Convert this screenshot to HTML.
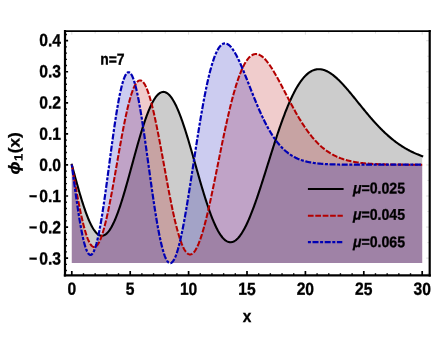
<!DOCTYPE html><html><head><meta charset="utf-8"><style>
html,body{margin:0;padding:0;background:#fff;}
#c{will-change:transform;position:relative;width:436px;height:354px;overflow:hidden;background:#fff;font-family:"Liberation Sans",sans-serif;font-weight:bold;color:#000;-webkit-text-stroke:0.3px #000;}
.t{position:absolute;left:0;top:0;white-space:nowrap;line-height:1;font-size:15.6px;transform-origin:50% 50%;}
.yl{text-align:right;width:40px;}
.xl{text-align:center;width:40px;}
.mn{display:inline-block;transform:scaleX(0.9);transform-origin:0% 50%;margin-right:1.7px;}
</style></head><body><div id="c">
<svg width="436" height="354" viewBox="0 0 436 354" style="position:absolute;left:0;top:0">
<path d="M71.80,164.70 L72.38,166.87 L72.97,169.04 L73.55,171.21 L74.14,173.37 L74.72,175.52 L75.30,177.66 L75.89,179.79 L76.47,181.90 L77.06,184.00 L77.64,186.08 L78.22,188.15 L78.81,190.18 L79.39,192.20 L79.98,194.19 L80.56,196.15 L81.14,198.08 L81.73,199.98 L82.31,201.85 L82.90,203.68 L83.48,205.48 L84.06,207.24 L84.65,208.96 L85.23,210.64 L85.82,212.27 L86.40,213.86 L86.98,215.40 L87.57,216.90 L88.15,218.35 L88.74,219.74 L89.32,221.09 L89.90,222.38 L90.49,223.62 L91.07,224.81 L91.66,225.94 L92.24,227.01 L92.82,228.02 L93.41,228.98 L93.99,229.87 L94.58,230.70 L95.16,231.48 L95.74,232.19 L96.33,232.83 L96.91,233.42 L97.50,233.94 L98.08,234.39 L98.66,234.78 L99.25,235.11 L99.83,235.37 L100.42,235.56 L101.00,235.69 L101.58,235.75 L102.17,235.75 L102.75,235.68 L103.34,235.55 L103.92,235.35 L104.50,235.08 L105.09,234.75 L105.67,234.36 L106.26,233.90 L106.84,233.37 L107.42,232.78 L108.01,232.13 L108.59,231.42 L109.18,230.65 L109.76,229.81 L110.34,228.92 L110.93,227.97 L111.51,226.95 L112.10,225.88 L112.68,224.76 L113.26,223.58 L113.85,222.34 L114.43,221.06 L115.02,219.72 L115.60,218.33 L116.18,216.89 L116.77,215.40 L117.35,213.87 L117.94,212.29 L118.52,210.67 L119.10,209.01 L119.69,207.31 L120.27,205.56 L120.86,203.79 L121.44,201.97 L122.02,200.12 L122.61,198.24 L123.19,196.33 L123.78,194.39 L124.36,192.42 L124.94,190.43 L125.53,188.41 L126.11,186.38 L126.70,184.32 L127.28,182.25 L127.86,180.16 L128.45,178.05 L129.03,175.94 L129.62,173.81 L130.20,171.68 L130.78,169.54 L131.37,167.39 L131.95,165.24 L132.54,163.10 L133.12,160.95 L133.70,158.81 L134.29,156.67 L134.87,154.54 L135.46,152.42 L136.04,150.31 L136.62,148.21 L137.21,146.13 L137.79,144.06 L138.38,142.01 L138.96,139.98 L139.54,137.98 L140.13,135.99 L140.71,134.04 L141.30,132.11 L141.88,130.20 L142.46,128.33 L143.05,126.49 L143.63,124.69 L144.22,122.92 L144.80,121.19 L145.38,119.49 L145.97,117.83 L146.55,116.22 L147.14,114.65 L147.72,113.12 L148.30,111.63 L148.89,110.20 L149.47,108.81 L150.06,107.46 L150.64,106.17 L151.22,104.93 L151.81,103.74 L152.39,102.60 L152.98,101.52 L153.56,100.49 L154.14,99.52 L154.73,98.60 L155.31,97.74 L155.90,96.93 L156.48,96.19 L157.06,95.50 L157.65,94.87 L158.23,94.31 L158.82,93.80 L159.40,93.35 L159.98,92.96 L160.57,92.64 L161.15,92.37 L161.74,92.17 L162.32,92.02 L162.90,91.94 L163.49,91.92 L164.07,91.96 L164.66,92.06 L165.24,92.23 L165.82,92.45 L166.41,92.73 L166.99,93.08 L167.58,93.48 L168.16,93.95 L168.74,94.47 L169.33,95.05 L169.91,95.69 L170.50,96.38 L171.08,97.13 L171.66,97.94 L172.25,98.80 L172.83,99.72 L173.42,100.69 L174.00,101.71 L174.58,102.78 L175.17,103.91 L175.75,105.08 L176.34,106.30 L176.92,107.57 L177.50,108.89 L178.09,110.25 L178.67,111.65 L179.26,113.10 L179.84,114.59 L180.42,116.12 L181.01,117.69 L181.59,119.29 L182.18,120.94 L182.76,122.61 L183.34,124.33 L183.93,126.07 L184.51,127.84 L185.10,129.64 L185.68,131.48 L186.26,133.33 L186.85,135.21 L187.43,137.12 L188.02,139.05 L188.60,140.99 L189.18,142.96 L189.77,144.94 L190.35,146.94 L190.94,148.95 L191.52,150.97 L192.10,153.00 L192.69,155.05 L193.27,157.10 L193.86,159.15 L194.44,161.21 L195.02,163.28 L195.61,165.34 L196.19,167.40 L196.78,169.47 L197.36,171.52 L197.94,173.58 L198.53,175.62 L199.11,177.66 L199.70,179.69 L200.28,181.71 L200.86,183.71 L201.45,185.70 L202.03,187.68 L202.62,189.63 L203.20,191.57 L203.78,193.49 L204.37,195.39 L204.95,197.26 L205.54,199.11 L206.12,200.94 L206.70,202.74 L207.29,204.51 L207.87,206.25 L208.46,207.97 L209.04,209.65 L209.62,211.30 L210.21,212.91 L210.79,214.49 L211.38,216.04 L211.96,217.55 L212.54,219.02 L213.13,220.45 L213.71,221.84 L214.30,223.20 L214.88,224.51 L215.46,225.78 L216.05,227.00 L216.63,228.18 L217.22,229.32 L217.80,230.42 L218.38,231.46 L218.97,232.47 L219.55,233.42 L220.14,234.33 L220.72,235.19 L221.30,236.00 L221.89,236.76 L222.47,237.48 L223.06,238.14 L223.64,238.76 L224.22,239.32 L224.81,239.84 L225.39,240.31 L225.98,240.72 L226.56,241.08 L227.14,241.40 L227.73,241.66 L228.31,241.87 L228.90,242.03 L229.48,242.14 L230.06,242.20 L230.65,242.21 L231.23,242.17 L231.82,242.08 L232.40,241.94 L232.98,241.75 L233.57,241.51 L234.15,241.23 L234.74,240.89 L235.32,240.50 L235.90,240.07 L236.49,239.59 L237.07,239.06 L237.66,238.49 L238.24,237.87 L238.82,237.20 L239.41,236.49 L239.99,235.74 L240.58,234.94 L241.16,234.10 L241.74,233.22 L242.33,232.29 L242.91,231.33 L243.50,230.32 L244.08,229.28 L244.66,228.19 L245.25,227.07 L245.83,225.91 L246.42,224.72 L247.00,223.49 L247.58,222.23 L248.17,220.93 L248.75,219.60 L249.34,218.24 L249.92,216.84 L250.50,215.42 L251.09,213.97 L251.67,212.49 L252.26,210.98 L252.84,209.45 L253.42,207.89 L254.01,206.31 L254.59,204.70 L255.18,203.07 L255.76,201.42 L256.34,199.75 L256.93,198.07 L257.51,196.36 L258.10,194.64 L258.68,192.90 L259.26,191.14 L259.85,189.37 L260.43,187.59 L261.02,185.79 L261.60,183.99 L262.18,182.17 L262.77,180.35 L263.35,178.51 L263.94,176.67 L264.52,174.83 L265.10,172.98 L265.69,171.12 L266.27,169.26 L266.86,167.40 L267.44,165.54 L268.02,163.67 L268.61,161.81 L269.19,159.95 L269.78,158.09 L270.36,156.24 L270.94,154.38 L271.53,152.54 L272.11,150.70 L272.70,148.86 L273.28,147.04 L273.86,145.22 L274.45,143.41 L275.03,141.61 L275.62,139.82 L276.20,138.05 L276.78,136.28 L277.37,134.53 L277.95,132.79 L278.54,131.07 L279.12,129.36 L279.70,127.67 L280.29,125.99 L280.87,124.33 L281.46,122.69 L282.04,121.07 L282.62,119.46 L283.21,117.88 L283.79,116.31 L284.38,114.76 L284.96,113.24 L285.54,111.74 L286.13,110.26 L286.71,108.80 L287.30,107.36 L287.88,105.95 L288.46,104.56 L289.05,103.20 L289.63,101.86 L290.22,100.54 L290.80,99.25 L291.38,97.99 L291.97,96.75 L292.55,95.54 L293.14,94.35 L293.72,93.19 L294.30,92.06 L294.89,90.95 L295.47,89.87 L296.06,88.82 L296.64,87.79 L297.22,86.80 L297.81,85.83 L298.39,84.88 L298.98,83.97 L299.56,83.08 L300.14,82.23 L300.73,81.40 L301.31,80.59 L301.90,79.82 L302.48,79.08 L303.06,78.36 L303.65,77.67 L304.23,77.01 L304.82,76.37 L305.40,75.77 L305.98,75.19 L306.57,74.64 L307.15,74.12 L307.74,73.62 L308.32,73.15 L308.90,72.71 L309.49,72.30 L310.07,71.91 L310.66,71.55 L311.24,71.22 L311.82,70.91 L312.41,70.63 L312.99,70.37 L313.58,70.14 L314.16,69.94 L314.74,69.76 L315.33,69.61 L315.91,69.48 L316.50,69.37 L317.08,69.29 L317.66,69.23 L318.25,69.19 L318.83,69.18 L319.42,69.19 L320.00,69.23 L320.58,69.28 L321.17,69.36 L321.75,69.46 L322.34,69.58 L322.92,69.72 L323.50,69.88 L324.09,70.06 L324.67,70.26 L325.26,70.49 L325.84,70.72 L326.42,70.98 L327.01,71.26 L327.59,71.55 L328.18,71.87 L328.76,72.19 L329.34,72.54 L329.93,72.90 L330.51,73.28 L331.10,73.67 L331.68,74.08 L332.26,74.51 L332.85,74.95 L333.43,75.40 L334.02,75.86 L334.60,76.34 L335.18,76.84 L335.77,77.34 L336.35,77.86 L336.94,78.39 L337.52,78.93 L338.10,79.48 L338.69,80.04 L339.27,80.61 L339.86,81.20 L340.44,81.79 L341.02,82.39 L341.61,83.00 L342.19,83.62 L342.78,84.24 L343.36,84.88 L343.94,85.52 L344.53,86.17 L345.11,86.83 L345.70,87.49 L346.28,88.16 L346.86,88.83 L347.45,89.51 L348.03,90.19 L348.62,90.88 L349.20,91.57 L349.78,92.27 L350.37,92.97 L350.95,93.68 L351.54,94.38 L352.12,95.10 L352.70,95.81 L353.29,96.52 L353.87,97.24 L354.46,97.96 L355.04,98.68 L355.62,99.41 L356.21,100.13 L356.79,100.85 L357.38,101.58 L357.96,102.30 L358.54,103.03 L359.13,103.75 L359.71,104.47 L360.30,105.20 L360.88,105.92 L361.46,106.64 L362.05,107.36 L362.63,108.08 L363.22,108.79 L363.80,109.51 L364.38,110.22 L364.97,110.93 L365.55,111.64 L366.14,112.34 L366.72,113.04 L367.30,113.74 L367.89,114.44 L368.47,115.13 L369.06,115.82 L369.64,116.50 L370.22,117.19 L370.81,117.86 L371.39,118.54 L371.98,119.21 L372.56,119.87 L373.14,120.53 L373.73,121.19 L374.31,121.84 L374.90,122.48 L375.48,123.13 L376.06,123.76 L376.65,124.39 L377.23,125.02 L377.82,125.64 L378.40,126.26 L378.98,126.87 L379.57,127.47 L380.15,128.07 L380.74,128.67 L381.32,129.26 L381.90,129.84 L382.49,130.42 L383.07,130.99 L383.66,131.56 L384.24,132.12 L384.82,132.67 L385.41,133.22 L385.99,133.76 L386.58,134.30 L387.16,134.83 L387.74,135.35 L388.33,135.87 L388.91,136.38 L389.50,136.89 L390.08,137.39 L390.66,137.88 L391.25,138.37 L391.83,138.85 L392.42,139.33 L393.00,139.79 L393.58,140.26 L394.17,140.72 L394.75,141.17 L395.34,141.61 L395.92,142.05 L396.50,142.48 L397.09,142.91 L397.67,143.33 L398.26,143.75 L398.84,144.16 L399.42,144.56 L400.01,144.96 L400.59,145.35 L401.18,145.74 L401.76,146.12 L402.34,146.49 L402.93,146.86 L403.51,147.22 L404.10,147.58 L404.68,147.93 L405.26,148.28 L405.85,148.62 L406.43,148.95 L407.02,149.28 L407.60,149.61 L408.18,149.93 L408.77,150.24 L409.35,150.55 L409.94,150.85 L410.52,151.15 L411.10,151.44 L411.69,151.73 L412.27,152.01 L412.86,152.29 L413.44,152.56 L414.02,152.83 L414.61,153.09 L415.19,153.35 L415.78,153.61 L416.36,153.86 L416.94,154.10 L417.53,154.34 L418.11,154.58 L418.70,154.81 L419.28,155.04 L419.86,155.26 L420.45,155.48 L421.03,155.69 L421.62,155.90 L422.20,156.11 L422.20,263.10 L71.80,263.10 Z" fill="rgba(0,0,0,0.2)" stroke="none"/>
<path d="M71.80,164.70 L72.38,168.07 L72.97,171.44 L73.55,174.80 L74.14,178.14 L74.72,181.46 L75.30,184.75 L75.89,188.01 L76.47,191.22 L77.06,194.39 L77.64,197.52 L78.22,200.58 L78.81,203.59 L79.39,206.53 L79.98,209.40 L80.56,212.19 L81.14,214.91 L81.73,217.54 L82.31,220.08 L82.90,222.53 L83.48,224.88 L84.06,227.13 L84.65,229.27 L85.23,231.31 L85.82,233.23 L86.40,235.04 L86.98,236.73 L87.57,238.30 L88.15,239.74 L88.74,241.07 L89.32,242.26 L89.90,243.32 L90.49,244.25 L91.07,245.05 L91.66,245.71 L92.24,246.24 L92.82,246.63 L93.41,246.88 L93.99,247.00 L94.58,246.98 L95.16,246.82 L95.74,246.53 L96.33,246.10 L96.91,245.53 L97.50,244.83 L98.08,244.00 L98.66,243.03 L99.25,241.93 L99.83,240.71 L100.42,239.36 L101.00,237.89 L101.58,236.29 L102.17,234.58 L102.75,232.75 L103.34,230.81 L103.92,228.76 L104.50,226.60 L105.09,224.34 L105.67,221.99 L106.26,219.54 L106.84,217.00 L107.42,214.37 L108.01,211.66 L108.59,208.88 L109.18,206.02 L109.76,203.10 L110.34,200.11 L110.93,197.06 L111.51,193.96 L112.10,190.82 L112.68,187.63 L113.26,184.41 L113.85,181.15 L114.43,177.86 L115.02,174.56 L115.60,171.24 L116.18,167.90 L116.77,164.57 L117.35,161.23 L117.94,157.90 L118.52,154.58 L119.10,151.27 L119.69,147.99 L120.27,144.74 L120.86,141.51 L121.44,138.33 L122.02,135.18 L122.61,132.08 L123.19,129.04 L123.78,126.05 L124.36,123.12 L124.94,120.26 L125.53,117.47 L126.11,114.75 L126.70,112.11 L127.28,109.56 L127.86,107.09 L128.45,104.71 L129.03,102.43 L129.62,100.24 L130.20,98.15 L130.78,96.17 L131.37,94.30 L131.95,92.53 L132.54,90.88 L133.12,89.34 L133.70,87.92 L134.29,86.61 L134.87,85.43 L135.46,84.37 L136.04,83.43 L136.62,82.62 L137.21,81.93 L137.79,81.37 L138.38,80.94 L138.96,80.63 L139.54,80.45 L140.13,80.40 L140.71,80.48 L141.30,80.68 L141.88,81.01 L142.46,81.47 L143.05,82.05 L143.63,82.76 L144.22,83.59 L144.80,84.54 L145.38,85.60 L145.97,86.79 L146.55,88.09 L147.14,89.51 L147.72,91.04 L148.30,92.67 L148.89,94.41 L149.47,96.26 L150.06,98.20 L150.64,100.24 L151.22,102.38 L151.81,104.60 L152.39,106.91 L152.98,109.31 L153.56,111.79 L154.14,114.34 L154.73,116.96 L155.31,119.66 L155.90,122.41 L156.48,125.23 L157.06,128.11 L157.65,131.03 L158.23,134.01 L158.82,137.02 L159.40,140.08 L159.98,143.17 L160.57,146.29 L161.15,149.43 L161.74,152.60 L162.32,155.79 L162.90,158.98 L163.49,162.19 L164.07,165.39 L164.66,168.60 L165.24,171.80 L165.82,174.99 L166.41,178.17 L166.99,181.33 L167.58,184.47 L168.16,187.58 L168.74,190.66 L169.33,193.70 L169.91,196.71 L170.50,199.67 L171.08,202.59 L171.66,205.46 L172.25,208.27 L172.83,211.03 L173.42,213.72 L174.00,216.35 L174.58,218.92 L175.17,221.41 L175.75,223.83 L176.34,226.18 L176.92,228.44 L177.50,230.63 L178.09,232.73 L178.67,234.74 L179.26,236.67 L179.84,238.51 L180.42,240.25 L181.01,241.90 L181.59,243.45 L182.18,244.91 L182.76,246.26 L183.34,247.52 L183.93,248.67 L184.51,249.72 L185.10,250.67 L185.68,251.51 L186.26,252.25 L186.85,252.89 L187.43,253.42 L188.02,253.84 L188.60,254.16 L189.18,254.37 L189.77,254.47 L190.35,254.47 L190.94,254.37 L191.52,254.16 L192.10,253.85 L192.69,253.44 L193.27,252.92 L193.86,252.31 L194.44,251.59 L195.02,250.78 L195.61,249.87 L196.19,248.86 L196.78,247.76 L197.36,246.57 L197.94,245.29 L198.53,243.92 L199.11,242.46 L199.70,240.92 L200.28,239.30 L200.86,237.60 L201.45,235.82 L202.03,233.96 L202.62,232.03 L203.20,230.03 L203.78,227.96 L204.37,225.82 L204.95,223.62 L205.54,221.37 L206.12,219.05 L206.70,216.68 L207.29,214.25 L207.87,211.78 L208.46,209.25 L209.04,206.69 L209.62,204.08 L210.21,201.43 L210.79,198.75 L211.38,196.04 L211.96,193.29 L212.54,190.52 L213.13,187.72 L213.71,184.90 L214.30,182.06 L214.88,179.21 L215.46,176.34 L216.05,173.46 L216.63,170.57 L217.22,167.68 L217.80,164.78 L218.38,161.89 L218.97,159.00 L219.55,156.11 L220.14,153.23 L220.72,150.36 L221.30,147.50 L221.89,144.66 L222.47,141.83 L223.06,139.03 L223.64,136.24 L224.22,133.48 L224.81,130.75 L225.39,128.04 L225.98,125.36 L226.56,122.71 L227.14,120.10 L227.73,117.52 L228.31,114.98 L228.90,112.48 L229.48,110.02 L230.06,107.60 L230.65,105.22 L231.23,102.89 L231.82,100.61 L232.40,98.37 L232.98,96.18 L233.57,94.04 L234.15,91.95 L234.74,89.91 L235.32,87.93 L235.90,85.99 L236.49,84.11 L237.07,82.29 L237.66,80.52 L238.24,78.81 L238.82,77.16 L239.41,75.56 L239.99,74.02 L240.58,72.54 L241.16,71.11 L241.74,69.75 L242.33,68.44 L242.91,67.19 L243.50,66.00 L244.08,64.87 L244.66,63.79 L245.25,62.78 L245.83,61.82 L246.42,60.92 L247.00,60.08 L247.58,59.30 L248.17,58.57 L248.75,57.90 L249.34,57.29 L249.92,56.73 L250.50,56.22 L251.09,55.78 L251.67,55.38 L252.26,55.04 L252.84,54.75 L253.42,54.51 L254.01,54.33 L254.59,54.19 L255.18,54.10 L255.76,54.07 L256.34,54.08 L256.93,54.13 L257.51,54.23 L258.10,54.38 L258.68,54.57 L259.26,54.81 L259.85,55.09 L260.43,55.40 L261.02,55.76 L261.60,56.16 L262.18,56.59 L262.77,57.07 L263.35,57.57 L263.94,58.12 L264.52,58.70 L265.10,59.30 L265.69,59.95 L266.27,60.62 L266.86,61.32 L267.44,62.05 L268.02,62.81 L268.61,63.59 L269.19,64.40 L269.78,65.24 L270.36,66.09 L270.94,66.97 L271.53,67.87 L272.11,68.79 L272.70,69.73 L273.28,70.69 L273.86,71.66 L274.45,72.65 L275.03,73.66 L275.62,74.68 L276.20,75.71 L276.78,76.75 L277.37,77.81 L277.95,78.88 L278.54,79.95 L279.12,81.04 L279.70,82.13 L280.29,83.23 L280.87,84.33 L281.46,85.44 L282.04,86.56 L282.62,87.68 L283.21,88.80 L283.79,89.92 L284.38,91.05 L284.96,92.17 L285.54,93.30 L286.13,94.42 L286.71,95.55 L287.30,96.67 L287.88,97.79 L288.46,98.91 L289.05,100.02 L289.63,101.13 L290.22,102.23 L290.80,103.33 L291.38,104.43 L291.97,105.51 L292.55,106.60 L293.14,107.67 L293.72,108.74 L294.30,109.79 L294.89,110.85 L295.47,111.89 L296.06,112.92 L296.64,113.94 L297.22,114.96 L297.81,115.96 L298.39,116.96 L298.98,117.94 L299.56,118.91 L300.14,119.88 L300.73,120.83 L301.31,121.77 L301.90,122.70 L302.48,123.61 L303.06,124.52 L303.65,125.41 L304.23,126.29 L304.82,127.16 L305.40,128.02 L305.98,128.86 L306.57,129.69 L307.15,130.51 L307.74,131.32 L308.32,132.11 L308.90,132.89 L309.49,133.66 L310.07,134.42 L310.66,135.16 L311.24,135.89 L311.82,136.61 L312.41,137.31 L312.99,138.01 L313.58,138.69 L314.16,139.35 L314.74,140.01 L315.33,140.65 L315.91,141.28 L316.50,141.90 L317.08,142.51 L317.66,143.10 L318.25,143.68 L318.83,144.25 L319.42,144.81 L320.00,145.36 L320.58,145.89 L321.17,146.41 L321.75,146.93 L322.34,147.43 L322.92,147.92 L323.50,148.39 L324.09,148.86 L324.67,149.32 L325.26,149.77 L325.84,150.20 L326.42,150.63 L327.01,151.04 L327.59,151.45 L328.18,151.85 L328.76,152.23 L329.34,152.61 L329.93,152.98 L330.51,153.33 L331.10,153.68 L331.68,154.02 L332.26,154.36 L332.85,154.68 L333.43,154.99 L334.02,155.30 L334.60,155.60 L335.18,155.89 L335.77,156.17 L336.35,156.45 L336.94,156.71 L337.52,156.97 L338.10,157.23 L338.69,157.47 L339.27,157.71 L339.86,157.94 L340.44,158.17 L341.02,158.39 L341.61,158.60 L342.19,158.81 L342.78,159.01 L343.36,159.20 L343.94,159.39 L344.53,159.57 L345.11,159.75 L345.70,159.92 L346.28,160.09 L346.86,160.25 L347.45,160.41 L348.03,160.56 L348.62,160.71 L349.20,160.85 L349.78,160.99 L350.37,161.12 L350.95,161.25 L351.54,161.38 L352.12,161.50 L352.70,161.61 L353.29,161.73 L353.87,161.84 L354.46,161.94 L355.04,162.05 L355.62,162.15 L356.21,162.24 L356.79,162.33 L357.38,162.42 L357.96,162.51 L358.54,162.59 L359.13,162.67 L359.71,162.75 L360.30,162.83 L360.88,162.90 L361.46,162.97 L362.05,163.04 L362.63,163.10 L363.22,163.17 L363.80,163.23 L364.38,163.29 L364.97,163.34 L365.55,163.40 L366.14,163.45 L366.72,163.50 L367.30,163.55 L367.89,163.59 L368.47,163.64 L369.06,163.68 L369.64,163.72 L370.22,163.76 L370.81,163.80 L371.39,163.84 L371.98,163.88 L372.56,163.91 L373.14,163.94 L373.73,163.97 L374.31,164.01 L374.90,164.03 L375.48,164.06 L376.06,164.09 L376.65,164.12 L377.23,164.14 L377.82,164.16 L378.40,164.19 L378.98,164.21 L379.57,164.23 L380.15,164.25 L380.74,164.27 L381.32,164.29 L381.90,164.31 L382.49,164.33 L383.07,164.34 L383.66,164.36 L384.24,164.37 L384.82,164.39 L385.41,164.40 L385.99,164.42 L386.58,164.43 L387.16,164.44 L387.74,164.45 L388.33,164.46 L388.91,164.47 L389.50,164.48 L390.08,164.49 L390.66,164.50 L391.25,164.51 L391.83,164.52 L392.42,164.53 L393.00,164.54 L393.58,164.55 L394.17,164.55 L394.75,164.56 L395.34,164.57 L395.92,164.57 L396.50,164.58 L397.09,164.58 L397.67,164.59 L398.26,164.60 L398.84,164.60 L399.42,164.60 L400.01,164.61 L400.59,164.61 L401.18,164.62 L401.76,164.62 L402.34,164.63 L402.93,164.63 L403.51,164.63 L404.10,164.64 L404.68,164.64 L405.26,164.64 L405.85,164.65 L406.43,164.65 L407.02,164.65 L407.60,164.65 L408.18,164.66 L408.77,164.66 L409.35,164.66 L409.94,164.66 L410.52,164.66 L411.10,164.67 L411.69,164.67 L412.27,164.67 L412.86,164.67 L413.44,164.67 L414.02,164.67 L414.61,164.67 L415.19,164.68 L415.78,164.68 L416.36,164.68 L416.94,164.68 L417.53,164.68 L418.11,164.68 L418.70,164.68 L419.28,164.68 L419.86,164.68 L420.45,164.69 L421.03,164.69 L421.62,164.69 L422.20,164.69 L422.20,263.10 L71.80,263.10 Z" fill="rgba(180,0,0,0.2)" stroke="none"/>
<path d="M71.80,164.70 L72.38,169.15 L72.97,173.58 L73.55,177.99 L74.14,182.38 L74.72,186.71 L75.30,191.00 L75.89,195.22 L76.47,199.36 L77.06,203.43 L77.64,207.39 L78.22,211.26 L78.81,215.01 L79.39,218.63 L79.98,222.13 L80.56,225.49 L81.14,228.69 L81.73,231.75 L82.31,234.64 L82.90,237.36 L83.48,239.90 L84.06,242.27 L84.65,244.44 L85.23,246.42 L85.82,248.20 L86.40,249.78 L86.98,251.16 L87.57,252.32 L88.15,253.27 L88.74,254.01 L89.32,254.54 L89.90,254.84 L90.49,254.93 L91.07,254.81 L91.66,254.46 L92.24,253.90 L92.82,253.12 L93.41,252.14 L93.99,250.94 L94.58,249.53 L95.16,247.92 L95.74,246.12 L96.33,244.11 L96.91,241.92 L97.50,239.55 L98.08,236.99 L98.66,234.26 L99.25,231.37 L99.83,228.32 L100.42,225.12 L101.00,221.77 L101.58,218.29 L102.17,214.68 L102.75,210.95 L103.34,207.12 L103.92,203.18 L104.50,199.15 L105.09,195.05 L105.67,190.87 L106.26,186.63 L106.84,182.33 L107.42,178.00 L108.01,173.63 L108.59,169.25 L109.18,164.85 L109.76,160.46 L110.34,156.07 L110.93,151.70 L111.51,147.37 L112.10,143.07 L112.68,138.83 L113.26,134.64 L113.85,130.52 L114.43,126.48 L115.02,122.53 L115.60,118.68 L116.18,114.93 L116.77,111.29 L117.35,107.78 L117.94,104.40 L118.52,101.15 L119.10,98.05 L119.69,95.09 L120.27,92.30 L120.86,89.67 L121.44,87.21 L122.02,84.92 L122.61,82.81 L123.19,80.88 L123.78,79.14 L124.36,77.59 L124.94,76.24 L125.53,75.08 L126.11,74.12 L126.70,73.36 L127.28,72.80 L127.86,72.44 L128.45,72.29 L129.03,72.34 L129.62,72.59 L130.20,73.04 L130.78,73.69 L131.37,74.53 L131.95,75.57 L132.54,76.81 L133.12,78.23 L133.70,79.84 L134.29,81.63 L134.87,83.60 L135.46,85.74 L136.04,88.05 L136.62,90.52 L137.21,93.14 L137.79,95.92 L138.38,98.84 L138.96,101.90 L139.54,105.09 L140.13,108.41 L140.71,111.84 L141.30,115.38 L141.88,119.02 L142.46,122.76 L143.05,126.58 L143.63,130.48 L144.22,134.46 L144.80,138.49 L145.38,142.57 L145.97,146.70 L146.55,150.87 L147.14,155.06 L147.72,159.28 L148.30,163.50 L148.89,167.73 L149.47,171.95 L150.06,176.15 L150.64,180.33 L151.22,184.49 L151.81,188.60 L152.39,192.67 L152.98,196.68 L153.56,200.64 L154.14,204.52 L154.73,208.33 L155.31,212.05 L155.90,215.68 L156.48,219.22 L157.06,222.66 L157.65,225.98 L158.23,229.20 L158.82,232.29 L159.40,235.26 L159.98,238.09 L160.57,240.80 L161.15,243.36 L161.74,245.78 L162.32,248.05 L162.90,250.18 L163.49,252.15 L164.07,253.96 L164.66,255.61 L165.24,257.11 L165.82,258.44 L166.41,259.61 L166.99,260.61 L167.58,261.44 L168.16,262.11 L168.74,262.61 L169.33,262.95 L169.91,263.11 L170.50,263.11 L171.08,262.95 L171.66,262.61 L172.25,262.12 L172.83,261.47 L173.42,260.65 L174.00,259.68 L174.58,258.55 L175.17,257.28 L175.75,255.85 L176.34,254.28 L176.92,252.56 L177.50,250.71 L178.09,248.72 L178.67,246.60 L179.26,244.35 L179.84,241.98 L180.42,239.49 L181.01,236.88 L181.59,234.17 L182.18,231.35 L182.76,228.44 L183.34,225.42 L183.93,222.32 L184.51,219.14 L185.10,215.87 L185.68,212.53 L186.26,209.13 L186.85,205.66 L187.43,202.13 L188.02,198.55 L188.60,194.92 L189.18,191.25 L189.77,187.55 L190.35,183.81 L190.94,180.05 L191.52,176.26 L192.10,172.46 L192.69,168.66 L193.27,164.84 L193.86,161.03 L194.44,157.22 L195.02,153.42 L195.61,149.63 L196.19,145.86 L196.78,142.12 L197.36,138.41 L197.94,134.72 L198.53,131.07 L199.11,127.47 L199.70,123.90 L200.28,120.39 L200.86,116.92 L201.45,113.51 L202.03,110.16 L202.62,106.87 L203.20,103.65 L203.78,100.49 L204.37,97.40 L204.95,94.38 L205.54,91.44 L206.12,88.58 L206.70,85.79 L207.29,83.09 L207.87,80.47 L208.46,77.93 L209.04,75.48 L209.62,73.12 L210.21,70.84 L210.79,68.66 L211.38,66.56 L211.96,64.56 L212.54,62.65 L213.13,60.83 L213.71,59.10 L214.30,57.47 L214.88,55.92 L215.46,54.48 L216.05,53.12 L216.63,51.86 L217.22,50.68 L217.80,49.60 L218.38,48.61 L218.97,47.71 L219.55,46.90 L220.14,46.18 L220.72,45.54 L221.30,44.99 L221.89,44.52 L222.47,44.14 L223.06,43.84 L223.64,43.62 L224.22,43.48 L224.81,43.41 L225.39,43.43 L225.98,43.51 L226.56,43.67 L227.14,43.90 L227.73,44.20 L228.31,44.56 L228.90,44.99 L229.48,45.48 L230.06,46.04 L230.65,46.65 L231.23,47.32 L231.82,48.05 L232.40,48.82 L232.98,49.65 L233.57,50.53 L234.15,51.46 L234.74,52.43 L235.32,53.44 L235.90,54.49 L236.49,55.59 L237.07,56.72 L237.66,57.88 L238.24,59.08 L238.82,60.30 L239.41,61.56 L239.99,62.85 L240.58,64.16 L241.16,65.49 L241.74,66.84 L242.33,68.22 L242.91,69.61 L243.50,71.02 L244.08,72.44 L244.66,73.87 L245.25,75.32 L245.83,76.78 L246.42,78.24 L247.00,79.71 L247.58,81.19 L248.17,82.67 L248.75,84.15 L249.34,85.64 L249.92,87.12 L250.50,88.60 L251.09,90.08 L251.67,91.56 L252.26,93.03 L252.84,94.49 L253.42,95.95 L254.01,97.40 L254.59,98.84 L255.18,100.27 L255.76,101.69 L256.34,103.10 L256.93,104.49 L257.51,105.88 L258.10,107.25 L258.68,108.60 L259.26,109.94 L259.85,111.27 L260.43,112.57 L261.02,113.87 L261.60,115.14 L262.18,116.40 L262.77,117.64 L263.35,118.86 L263.94,120.06 L264.52,121.25 L265.10,122.41 L265.69,123.56 L266.27,124.69 L266.86,125.79 L267.44,126.88 L268.02,127.95 L268.61,128.99 L269.19,130.02 L269.78,131.03 L270.36,132.02 L270.94,132.98 L271.53,133.93 L272.11,134.86 L272.70,135.76 L273.28,136.65 L273.86,137.52 L274.45,138.37 L275.03,139.19 L275.62,140.00 L276.20,140.79 L276.78,141.56 L277.37,142.31 L277.95,143.05 L278.54,143.76 L279.12,144.46 L279.70,145.14 L280.29,145.80 L280.87,146.44 L281.46,147.06 L282.04,147.67 L282.62,148.26 L283.21,148.84 L283.79,149.40 L284.38,149.94 L284.96,150.47 L285.54,150.98 L286.13,151.48 L286.71,151.96 L287.30,152.43 L287.88,152.88 L288.46,153.32 L289.05,153.75 L289.63,154.16 L290.22,154.56 L290.80,154.94 L291.38,155.32 L291.97,155.68 L292.55,156.03 L293.14,156.37 L293.72,156.70 L294.30,157.01 L294.89,157.32 L295.47,157.61 L296.06,157.90 L296.64,158.17 L297.22,158.44 L297.81,158.70 L298.39,158.94 L298.98,159.18 L299.56,159.41 L300.14,159.63 L300.73,159.84 L301.31,160.05 L301.90,160.25 L302.48,160.44 L303.06,160.62 L303.65,160.80 L304.23,160.97 L304.82,161.13 L305.40,161.28 L305.98,161.44 L306.57,161.58 L307.15,161.72 L307.74,161.85 L308.32,161.98 L308.90,162.10 L309.49,162.22 L310.07,162.33 L310.66,162.44 L311.24,162.55 L311.82,162.64 L312.41,162.74 L312.99,162.83 L313.58,162.92 L314.16,163.00 L314.74,163.08 L315.33,163.16 L315.91,163.23 L316.50,163.30 L317.08,163.37 L317.66,163.43 L318.25,163.50 L318.83,163.55 L319.42,163.61 L320.00,163.66 L320.58,163.72 L321.17,163.76 L321.75,163.81 L322.34,163.86 L322.92,163.90 L323.50,163.94 L324.09,163.98 L324.67,164.01 L325.26,164.05 L325.84,164.08 L326.42,164.11 L327.01,164.14 L327.59,164.17 L328.18,164.20 L328.76,164.23 L329.34,164.25 L329.93,164.27 L330.51,164.30 L331.10,164.32 L331.68,164.34 L332.26,164.36 L332.85,164.38 L333.43,164.39 L334.02,164.41 L334.60,164.43 L335.18,164.44 L335.77,164.46 L336.35,164.47 L336.94,164.48 L337.52,164.49 L338.10,164.50 L338.69,164.52 L339.27,164.53 L339.86,164.54 L340.44,164.54 L341.02,164.55 L341.61,164.56 L342.19,164.57 L342.78,164.58 L343.36,164.58 L343.94,164.59 L344.53,164.60 L345.11,164.60 L345.70,164.61 L346.28,164.61 L346.86,164.62 L347.45,164.62 L348.03,164.63 L348.62,164.63 L349.20,164.64 L349.78,164.64 L350.37,164.64 L350.95,164.65 L351.54,164.65 L352.12,164.65 L352.70,164.66 L353.29,164.66 L353.87,164.66 L354.46,164.66 L355.04,164.67 L355.62,164.67 L356.21,164.67 L356.79,164.67 L357.38,164.67 L357.96,164.68 L358.54,164.68 L359.13,164.68 L359.71,164.68 L360.30,164.68 L360.88,164.68 L361.46,164.68 L362.05,164.68 L362.63,164.69 L363.22,164.69 L363.80,164.69 L364.38,164.69 L364.97,164.69 L365.55,164.69 L366.14,164.69 L366.72,164.69 L367.30,164.69 L367.89,164.69 L368.47,164.69 L369.06,164.69 L369.64,164.69 L370.22,164.69 L370.81,164.69 L371.39,164.69 L371.98,164.69 L372.56,164.70 L373.14,164.70 L373.73,164.70 L374.31,164.70 L374.90,164.70 L375.48,164.70 L376.06,164.70 L376.65,164.70 L377.23,164.70 L377.82,164.70 L378.40,164.70 L378.98,164.70 L379.57,164.70 L380.15,164.70 L380.74,164.70 L381.32,164.70 L381.90,164.70 L382.49,164.70 L383.07,164.70 L383.66,164.70 L384.24,164.70 L384.82,164.70 L385.41,164.70 L385.99,164.70 L386.58,164.70 L387.16,164.70 L387.74,164.70 L388.33,164.70 L388.91,164.70 L389.50,164.70 L390.08,164.70 L390.66,164.70 L391.25,164.70 L391.83,164.70 L392.42,164.70 L393.00,164.70 L393.58,164.70 L394.17,164.70 L394.75,164.70 L395.34,164.70 L395.92,164.70 L396.50,164.70 L397.09,164.70 L397.67,164.70 L398.26,164.70 L398.84,164.70 L399.42,164.70 L400.01,164.70 L400.59,164.70 L401.18,164.70 L401.76,164.70 L402.34,164.70 L402.93,164.70 L403.51,164.70 L404.10,164.70 L404.68,164.70 L405.26,164.70 L405.85,164.70 L406.43,164.70 L407.02,164.70 L407.60,164.70 L408.18,164.70 L408.77,164.70 L409.35,164.70 L409.94,164.70 L410.52,164.70 L411.10,164.70 L411.69,164.70 L412.27,164.70 L412.86,164.70 L413.44,164.70 L414.02,164.70 L414.61,164.70 L415.19,164.70 L415.78,164.70 L416.36,164.70 L416.94,164.70 L417.53,164.70 L418.11,164.70 L418.70,164.70 L419.28,164.70 L419.86,164.70 L420.45,164.70 L421.03,164.70 L421.62,164.70 L422.20,164.70 L422.20,263.10 L71.80,263.10 Z" fill="rgba(0,0,180,0.2)" stroke="none"/>
<path d="M71.80,164.70 L72.38,166.87 L72.97,169.04 L73.55,171.21 L74.14,173.37 L74.72,175.52 L75.30,177.66 L75.89,179.79 L76.47,181.90 L77.06,184.00 L77.64,186.08 L78.22,188.15 L78.81,190.18 L79.39,192.20 L79.98,194.19 L80.56,196.15 L81.14,198.08 L81.73,199.98 L82.31,201.85 L82.90,203.68 L83.48,205.48 L84.06,207.24 L84.65,208.96 L85.23,210.64 L85.82,212.27 L86.40,213.86 L86.98,215.40 L87.57,216.90 L88.15,218.35 L88.74,219.74 L89.32,221.09 L89.90,222.38 L90.49,223.62 L91.07,224.81 L91.66,225.94 L92.24,227.01 L92.82,228.02 L93.41,228.98 L93.99,229.87 L94.58,230.70 L95.16,231.48 L95.74,232.19 L96.33,232.83 L96.91,233.42 L97.50,233.94 L98.08,234.39 L98.66,234.78 L99.25,235.11 L99.83,235.37 L100.42,235.56 L101.00,235.69 L101.58,235.75 L102.17,235.75 L102.75,235.68 L103.34,235.55 L103.92,235.35 L104.50,235.08 L105.09,234.75 L105.67,234.36 L106.26,233.90 L106.84,233.37 L107.42,232.78 L108.01,232.13 L108.59,231.42 L109.18,230.65 L109.76,229.81 L110.34,228.92 L110.93,227.97 L111.51,226.95 L112.10,225.88 L112.68,224.76 L113.26,223.58 L113.85,222.34 L114.43,221.06 L115.02,219.72 L115.60,218.33 L116.18,216.89 L116.77,215.40 L117.35,213.87 L117.94,212.29 L118.52,210.67 L119.10,209.01 L119.69,207.31 L120.27,205.56 L120.86,203.79 L121.44,201.97 L122.02,200.12 L122.61,198.24 L123.19,196.33 L123.78,194.39 L124.36,192.42 L124.94,190.43 L125.53,188.41 L126.11,186.38 L126.70,184.32 L127.28,182.25 L127.86,180.16 L128.45,178.05 L129.03,175.94 L129.62,173.81 L130.20,171.68 L130.78,169.54 L131.37,167.39 L131.95,165.24 L132.54,163.10 L133.12,160.95 L133.70,158.81 L134.29,156.67 L134.87,154.54 L135.46,152.42 L136.04,150.31 L136.62,148.21 L137.21,146.13 L137.79,144.06 L138.38,142.01 L138.96,139.98 L139.54,137.98 L140.13,135.99 L140.71,134.04 L141.30,132.11 L141.88,130.20 L142.46,128.33 L143.05,126.49 L143.63,124.69 L144.22,122.92 L144.80,121.19 L145.38,119.49 L145.97,117.83 L146.55,116.22 L147.14,114.65 L147.72,113.12 L148.30,111.63 L148.89,110.20 L149.47,108.81 L150.06,107.46 L150.64,106.17 L151.22,104.93 L151.81,103.74 L152.39,102.60 L152.98,101.52 L153.56,100.49 L154.14,99.52 L154.73,98.60 L155.31,97.74 L155.90,96.93 L156.48,96.19 L157.06,95.50 L157.65,94.87 L158.23,94.31 L158.82,93.80 L159.40,93.35 L159.98,92.96 L160.57,92.64 L161.15,92.37 L161.74,92.17 L162.32,92.02 L162.90,91.94 L163.49,91.92 L164.07,91.96 L164.66,92.06 L165.24,92.23 L165.82,92.45 L166.41,92.73 L166.99,93.08 L167.58,93.48 L168.16,93.95 L168.74,94.47 L169.33,95.05 L169.91,95.69 L170.50,96.38 L171.08,97.13 L171.66,97.94 L172.25,98.80 L172.83,99.72 L173.42,100.69 L174.00,101.71 L174.58,102.78 L175.17,103.91 L175.75,105.08 L176.34,106.30 L176.92,107.57 L177.50,108.89 L178.09,110.25 L178.67,111.65 L179.26,113.10 L179.84,114.59 L180.42,116.12 L181.01,117.69 L181.59,119.29 L182.18,120.94 L182.76,122.61 L183.34,124.33 L183.93,126.07 L184.51,127.84 L185.10,129.64 L185.68,131.48 L186.26,133.33 L186.85,135.21 L187.43,137.12 L188.02,139.05 L188.60,140.99 L189.18,142.96 L189.77,144.94 L190.35,146.94 L190.94,148.95 L191.52,150.97 L192.10,153.00 L192.69,155.05 L193.27,157.10 L193.86,159.15 L194.44,161.21 L195.02,163.28 L195.61,165.34 L196.19,167.40 L196.78,169.47 L197.36,171.52 L197.94,173.58 L198.53,175.62 L199.11,177.66 L199.70,179.69 L200.28,181.71 L200.86,183.71 L201.45,185.70 L202.03,187.68 L202.62,189.63 L203.20,191.57 L203.78,193.49 L204.37,195.39 L204.95,197.26 L205.54,199.11 L206.12,200.94 L206.70,202.74 L207.29,204.51 L207.87,206.25 L208.46,207.97 L209.04,209.65 L209.62,211.30 L210.21,212.91 L210.79,214.49 L211.38,216.04 L211.96,217.55 L212.54,219.02 L213.13,220.45 L213.71,221.84 L214.30,223.20 L214.88,224.51 L215.46,225.78 L216.05,227.00 L216.63,228.18 L217.22,229.32 L217.80,230.42 L218.38,231.46 L218.97,232.47 L219.55,233.42 L220.14,234.33 L220.72,235.19 L221.30,236.00 L221.89,236.76 L222.47,237.48 L223.06,238.14 L223.64,238.76 L224.22,239.32 L224.81,239.84 L225.39,240.31 L225.98,240.72 L226.56,241.08 L227.14,241.40 L227.73,241.66 L228.31,241.87 L228.90,242.03 L229.48,242.14 L230.06,242.20 L230.65,242.21 L231.23,242.17 L231.82,242.08 L232.40,241.94 L232.98,241.75 L233.57,241.51 L234.15,241.23 L234.74,240.89 L235.32,240.50 L235.90,240.07 L236.49,239.59 L237.07,239.06 L237.66,238.49 L238.24,237.87 L238.82,237.20 L239.41,236.49 L239.99,235.74 L240.58,234.94 L241.16,234.10 L241.74,233.22 L242.33,232.29 L242.91,231.33 L243.50,230.32 L244.08,229.28 L244.66,228.19 L245.25,227.07 L245.83,225.91 L246.42,224.72 L247.00,223.49 L247.58,222.23 L248.17,220.93 L248.75,219.60 L249.34,218.24 L249.92,216.84 L250.50,215.42 L251.09,213.97 L251.67,212.49 L252.26,210.98 L252.84,209.45 L253.42,207.89 L254.01,206.31 L254.59,204.70 L255.18,203.07 L255.76,201.42 L256.34,199.75 L256.93,198.07 L257.51,196.36 L258.10,194.64 L258.68,192.90 L259.26,191.14 L259.85,189.37 L260.43,187.59 L261.02,185.79 L261.60,183.99 L262.18,182.17 L262.77,180.35 L263.35,178.51 L263.94,176.67 L264.52,174.83 L265.10,172.98 L265.69,171.12 L266.27,169.26 L266.86,167.40 L267.44,165.54 L268.02,163.67 L268.61,161.81 L269.19,159.95 L269.78,158.09 L270.36,156.24 L270.94,154.38 L271.53,152.54 L272.11,150.70 L272.70,148.86 L273.28,147.04 L273.86,145.22 L274.45,143.41 L275.03,141.61 L275.62,139.82 L276.20,138.05 L276.78,136.28 L277.37,134.53 L277.95,132.79 L278.54,131.07 L279.12,129.36 L279.70,127.67 L280.29,125.99 L280.87,124.33 L281.46,122.69 L282.04,121.07 L282.62,119.46 L283.21,117.88 L283.79,116.31 L284.38,114.76 L284.96,113.24 L285.54,111.74 L286.13,110.26 L286.71,108.80 L287.30,107.36 L287.88,105.95 L288.46,104.56 L289.05,103.20 L289.63,101.86 L290.22,100.54 L290.80,99.25 L291.38,97.99 L291.97,96.75 L292.55,95.54 L293.14,94.35 L293.72,93.19 L294.30,92.06 L294.89,90.95 L295.47,89.87 L296.06,88.82 L296.64,87.79 L297.22,86.80 L297.81,85.83 L298.39,84.88 L298.98,83.97 L299.56,83.08 L300.14,82.23 L300.73,81.40 L301.31,80.59 L301.90,79.82 L302.48,79.08 L303.06,78.36 L303.65,77.67 L304.23,77.01 L304.82,76.37 L305.40,75.77 L305.98,75.19 L306.57,74.64 L307.15,74.12 L307.74,73.62 L308.32,73.15 L308.90,72.71 L309.49,72.30 L310.07,71.91 L310.66,71.55 L311.24,71.22 L311.82,70.91 L312.41,70.63 L312.99,70.37 L313.58,70.14 L314.16,69.94 L314.74,69.76 L315.33,69.61 L315.91,69.48 L316.50,69.37 L317.08,69.29 L317.66,69.23 L318.25,69.19 L318.83,69.18 L319.42,69.19 L320.00,69.23 L320.58,69.28 L321.17,69.36 L321.75,69.46 L322.34,69.58 L322.92,69.72 L323.50,69.88 L324.09,70.06 L324.67,70.26 L325.26,70.49 L325.84,70.72 L326.42,70.98 L327.01,71.26 L327.59,71.55 L328.18,71.87 L328.76,72.19 L329.34,72.54 L329.93,72.90 L330.51,73.28 L331.10,73.67 L331.68,74.08 L332.26,74.51 L332.85,74.95 L333.43,75.40 L334.02,75.86 L334.60,76.34 L335.18,76.84 L335.77,77.34 L336.35,77.86 L336.94,78.39 L337.52,78.93 L338.10,79.48 L338.69,80.04 L339.27,80.61 L339.86,81.20 L340.44,81.79 L341.02,82.39 L341.61,83.00 L342.19,83.62 L342.78,84.24 L343.36,84.88 L343.94,85.52 L344.53,86.17 L345.11,86.83 L345.70,87.49 L346.28,88.16 L346.86,88.83 L347.45,89.51 L348.03,90.19 L348.62,90.88 L349.20,91.57 L349.78,92.27 L350.37,92.97 L350.95,93.68 L351.54,94.38 L352.12,95.10 L352.70,95.81 L353.29,96.52 L353.87,97.24 L354.46,97.96 L355.04,98.68 L355.62,99.41 L356.21,100.13 L356.79,100.85 L357.38,101.58 L357.96,102.30 L358.54,103.03 L359.13,103.75 L359.71,104.47 L360.30,105.20 L360.88,105.92 L361.46,106.64 L362.05,107.36 L362.63,108.08 L363.22,108.79 L363.80,109.51 L364.38,110.22 L364.97,110.93 L365.55,111.64 L366.14,112.34 L366.72,113.04 L367.30,113.74 L367.89,114.44 L368.47,115.13 L369.06,115.82 L369.64,116.50 L370.22,117.19 L370.81,117.86 L371.39,118.54 L371.98,119.21 L372.56,119.87 L373.14,120.53 L373.73,121.19 L374.31,121.84 L374.90,122.48 L375.48,123.13 L376.06,123.76 L376.65,124.39 L377.23,125.02 L377.82,125.64 L378.40,126.26 L378.98,126.87 L379.57,127.47 L380.15,128.07 L380.74,128.67 L381.32,129.26 L381.90,129.84 L382.49,130.42 L383.07,130.99 L383.66,131.56 L384.24,132.12 L384.82,132.67 L385.41,133.22 L385.99,133.76 L386.58,134.30 L387.16,134.83 L387.74,135.35 L388.33,135.87 L388.91,136.38 L389.50,136.89 L390.08,137.39 L390.66,137.88 L391.25,138.37 L391.83,138.85 L392.42,139.33 L393.00,139.79 L393.58,140.26 L394.17,140.72 L394.75,141.17 L395.34,141.61 L395.92,142.05 L396.50,142.48 L397.09,142.91 L397.67,143.33 L398.26,143.75 L398.84,144.16 L399.42,144.56 L400.01,144.96 L400.59,145.35 L401.18,145.74 L401.76,146.12 L402.34,146.49 L402.93,146.86 L403.51,147.22 L404.10,147.58 L404.68,147.93 L405.26,148.28 L405.85,148.62 L406.43,148.95 L407.02,149.28 L407.60,149.61 L408.18,149.93 L408.77,150.24 L409.35,150.55 L409.94,150.85 L410.52,151.15 L411.10,151.44 L411.69,151.73 L412.27,152.01 L412.86,152.29 L413.44,152.56 L414.02,152.83 L414.61,153.09 L415.19,153.35 L415.78,153.61 L416.36,153.86 L416.94,154.10 L417.53,154.34 L418.11,154.58 L418.70,154.81 L419.28,155.04 L419.86,155.26 L420.45,155.48 L421.03,155.69 L421.62,155.90 L422.20,156.11" fill="none" stroke="#000000" stroke-width="2.1" stroke-linecap="square" stroke-linejoin="round"/>
<path d="M71.80,164.70 L72.38,168.07 L72.97,171.44 L73.55,174.80 L74.14,178.14 L74.72,181.46 L75.30,184.75 L75.89,188.01 L76.47,191.22 L77.06,194.39 L77.64,197.52 L78.22,200.58 L78.81,203.59 L79.39,206.53 L79.98,209.40 L80.56,212.19 L81.14,214.91 L81.73,217.54 L82.31,220.08 L82.90,222.53 L83.48,224.88 L84.06,227.13 L84.65,229.27 L85.23,231.31 L85.82,233.23 L86.40,235.04 L86.98,236.73 L87.57,238.30 L88.15,239.74 L88.74,241.07 L89.32,242.26 L89.90,243.32 L90.49,244.25 L91.07,245.05 L91.66,245.71 L92.24,246.24 L92.82,246.63 L93.41,246.88 L93.99,247.00 L94.58,246.98 L95.16,246.82 L95.74,246.53 L96.33,246.10 L96.91,245.53 L97.50,244.83 L98.08,244.00 L98.66,243.03 L99.25,241.93 L99.83,240.71 L100.42,239.36 L101.00,237.89 L101.58,236.29 L102.17,234.58 L102.75,232.75 L103.34,230.81 L103.92,228.76 L104.50,226.60 L105.09,224.34 L105.67,221.99 L106.26,219.54 L106.84,217.00 L107.42,214.37 L108.01,211.66 L108.59,208.88 L109.18,206.02 L109.76,203.10 L110.34,200.11 L110.93,197.06 L111.51,193.96 L112.10,190.82 L112.68,187.63 L113.26,184.41 L113.85,181.15 L114.43,177.86 L115.02,174.56 L115.60,171.24 L116.18,167.90 L116.77,164.57 L117.35,161.23 L117.94,157.90 L118.52,154.58 L119.10,151.27 L119.69,147.99 L120.27,144.74 L120.86,141.51 L121.44,138.33 L122.02,135.18 L122.61,132.08 L123.19,129.04 L123.78,126.05 L124.36,123.12 L124.94,120.26 L125.53,117.47 L126.11,114.75 L126.70,112.11 L127.28,109.56 L127.86,107.09 L128.45,104.71 L129.03,102.43 L129.62,100.24 L130.20,98.15 L130.78,96.17 L131.37,94.30 L131.95,92.53 L132.54,90.88 L133.12,89.34 L133.70,87.92 L134.29,86.61 L134.87,85.43 L135.46,84.37 L136.04,83.43 L136.62,82.62 L137.21,81.93 L137.79,81.37 L138.38,80.94 L138.96,80.63 L139.54,80.45 L140.13,80.40 L140.71,80.48 L141.30,80.68 L141.88,81.01 L142.46,81.47 L143.05,82.05 L143.63,82.76 L144.22,83.59 L144.80,84.54 L145.38,85.60 L145.97,86.79 L146.55,88.09 L147.14,89.51 L147.72,91.04 L148.30,92.67 L148.89,94.41 L149.47,96.26 L150.06,98.20 L150.64,100.24 L151.22,102.38 L151.81,104.60 L152.39,106.91 L152.98,109.31 L153.56,111.79 L154.14,114.34 L154.73,116.96 L155.31,119.66 L155.90,122.41 L156.48,125.23 L157.06,128.11 L157.65,131.03 L158.23,134.01 L158.82,137.02 L159.40,140.08 L159.98,143.17 L160.57,146.29 L161.15,149.43 L161.74,152.60 L162.32,155.79 L162.90,158.98 L163.49,162.19 L164.07,165.39 L164.66,168.60 L165.24,171.80 L165.82,174.99 L166.41,178.17 L166.99,181.33 L167.58,184.47 L168.16,187.58 L168.74,190.66 L169.33,193.70 L169.91,196.71 L170.50,199.67 L171.08,202.59 L171.66,205.46 L172.25,208.27 L172.83,211.03 L173.42,213.72 L174.00,216.35 L174.58,218.92 L175.17,221.41 L175.75,223.83 L176.34,226.18 L176.92,228.44 L177.50,230.63 L178.09,232.73 L178.67,234.74 L179.26,236.67 L179.84,238.51 L180.42,240.25 L181.01,241.90 L181.59,243.45 L182.18,244.91 L182.76,246.26 L183.34,247.52 L183.93,248.67 L184.51,249.72 L185.10,250.67 L185.68,251.51 L186.26,252.25 L186.85,252.89 L187.43,253.42 L188.02,253.84 L188.60,254.16 L189.18,254.37 L189.77,254.47 L190.35,254.47 L190.94,254.37 L191.52,254.16 L192.10,253.85 L192.69,253.44 L193.27,252.92 L193.86,252.31 L194.44,251.59 L195.02,250.78 L195.61,249.87 L196.19,248.86 L196.78,247.76 L197.36,246.57 L197.94,245.29 L198.53,243.92 L199.11,242.46 L199.70,240.92 L200.28,239.30 L200.86,237.60 L201.45,235.82 L202.03,233.96 L202.62,232.03 L203.20,230.03 L203.78,227.96 L204.37,225.82 L204.95,223.62 L205.54,221.37 L206.12,219.05 L206.70,216.68 L207.29,214.25 L207.87,211.78 L208.46,209.25 L209.04,206.69 L209.62,204.08 L210.21,201.43 L210.79,198.75 L211.38,196.04 L211.96,193.29 L212.54,190.52 L213.13,187.72 L213.71,184.90 L214.30,182.06 L214.88,179.21 L215.46,176.34 L216.05,173.46 L216.63,170.57 L217.22,167.68 L217.80,164.78 L218.38,161.89 L218.97,159.00 L219.55,156.11 L220.14,153.23 L220.72,150.36 L221.30,147.50 L221.89,144.66 L222.47,141.83 L223.06,139.03 L223.64,136.24 L224.22,133.48 L224.81,130.75 L225.39,128.04 L225.98,125.36 L226.56,122.71 L227.14,120.10 L227.73,117.52 L228.31,114.98 L228.90,112.48 L229.48,110.02 L230.06,107.60 L230.65,105.22 L231.23,102.89 L231.82,100.61 L232.40,98.37 L232.98,96.18 L233.57,94.04 L234.15,91.95 L234.74,89.91 L235.32,87.93 L235.90,85.99 L236.49,84.11 L237.07,82.29 L237.66,80.52 L238.24,78.81 L238.82,77.16 L239.41,75.56 L239.99,74.02 L240.58,72.54 L241.16,71.11 L241.74,69.75 L242.33,68.44 L242.91,67.19 L243.50,66.00 L244.08,64.87 L244.66,63.79 L245.25,62.78 L245.83,61.82 L246.42,60.92 L247.00,60.08 L247.58,59.30 L248.17,58.57 L248.75,57.90 L249.34,57.29 L249.92,56.73 L250.50,56.22 L251.09,55.78 L251.67,55.38 L252.26,55.04 L252.84,54.75 L253.42,54.51 L254.01,54.33 L254.59,54.19 L255.18,54.10 L255.76,54.07 L256.34,54.08 L256.93,54.13 L257.51,54.23 L258.10,54.38 L258.68,54.57 L259.26,54.81 L259.85,55.09 L260.43,55.40 L261.02,55.76 L261.60,56.16 L262.18,56.59 L262.77,57.07 L263.35,57.57 L263.94,58.12 L264.52,58.70 L265.10,59.30 L265.69,59.95 L266.27,60.62 L266.86,61.32 L267.44,62.05 L268.02,62.81 L268.61,63.59 L269.19,64.40 L269.78,65.24 L270.36,66.09 L270.94,66.97 L271.53,67.87 L272.11,68.79 L272.70,69.73 L273.28,70.69 L273.86,71.66 L274.45,72.65 L275.03,73.66 L275.62,74.68 L276.20,75.71 L276.78,76.75 L277.37,77.81 L277.95,78.88 L278.54,79.95 L279.12,81.04 L279.70,82.13 L280.29,83.23 L280.87,84.33 L281.46,85.44 L282.04,86.56 L282.62,87.68 L283.21,88.80 L283.79,89.92 L284.38,91.05 L284.96,92.17 L285.54,93.30 L286.13,94.42 L286.71,95.55 L287.30,96.67 L287.88,97.79 L288.46,98.91 L289.05,100.02 L289.63,101.13 L290.22,102.23 L290.80,103.33 L291.38,104.43 L291.97,105.51 L292.55,106.60 L293.14,107.67 L293.72,108.74 L294.30,109.79 L294.89,110.85 L295.47,111.89 L296.06,112.92 L296.64,113.94 L297.22,114.96 L297.81,115.96 L298.39,116.96 L298.98,117.94 L299.56,118.91 L300.14,119.88 L300.73,120.83 L301.31,121.77 L301.90,122.70 L302.48,123.61 L303.06,124.52 L303.65,125.41 L304.23,126.29 L304.82,127.16 L305.40,128.02 L305.98,128.86 L306.57,129.69 L307.15,130.51 L307.74,131.32 L308.32,132.11 L308.90,132.89 L309.49,133.66 L310.07,134.42 L310.66,135.16 L311.24,135.89 L311.82,136.61 L312.41,137.31 L312.99,138.01 L313.58,138.69 L314.16,139.35 L314.74,140.01 L315.33,140.65 L315.91,141.28 L316.50,141.90 L317.08,142.51 L317.66,143.10 L318.25,143.68 L318.83,144.25 L319.42,144.81 L320.00,145.36 L320.58,145.89 L321.17,146.41 L321.75,146.93 L322.34,147.43 L322.92,147.92 L323.50,148.39 L324.09,148.86 L324.67,149.32 L325.26,149.77 L325.84,150.20 L326.42,150.63 L327.01,151.04 L327.59,151.45 L328.18,151.85 L328.76,152.23 L329.34,152.61 L329.93,152.98 L330.51,153.33 L331.10,153.68 L331.68,154.02 L332.26,154.36 L332.85,154.68 L333.43,154.99 L334.02,155.30 L334.60,155.60 L335.18,155.89 L335.77,156.17 L336.35,156.45 L336.94,156.71 L337.52,156.97 L338.10,157.23 L338.69,157.47 L339.27,157.71 L339.86,157.94 L340.44,158.17 L341.02,158.39 L341.61,158.60 L342.19,158.81 L342.78,159.01 L343.36,159.20 L343.94,159.39 L344.53,159.57 L345.11,159.75 L345.70,159.92 L346.28,160.09 L346.86,160.25 L347.45,160.41 L348.03,160.56 L348.62,160.71 L349.20,160.85 L349.78,160.99 L350.37,161.12 L350.95,161.25 L351.54,161.38 L352.12,161.50 L352.70,161.61 L353.29,161.73 L353.87,161.84 L354.46,161.94 L355.04,162.05 L355.62,162.15 L356.21,162.24 L356.79,162.33 L357.38,162.42 L357.96,162.51 L358.54,162.59 L359.13,162.67 L359.71,162.75 L360.30,162.83 L360.88,162.90 L361.46,162.97 L362.05,163.04 L362.63,163.10 L363.22,163.17 L363.80,163.23 L364.38,163.29 L364.97,163.34 L365.55,163.40 L366.14,163.45 L366.72,163.50 L367.30,163.55 L367.89,163.59 L368.47,163.64 L369.06,163.68 L369.64,163.72 L370.22,163.76 L370.81,163.80 L371.39,163.84 L371.98,163.88 L372.56,163.91 L373.14,163.94 L373.73,163.97 L374.31,164.01 L374.90,164.03 L375.48,164.06 L376.06,164.09 L376.65,164.12 L377.23,164.14 L377.82,164.16 L378.40,164.19 L378.98,164.21 L379.57,164.23 L380.15,164.25 L380.74,164.27 L381.32,164.29 L381.90,164.31 L382.49,164.33 L383.07,164.34 L383.66,164.36 L384.24,164.37 L384.82,164.39 L385.41,164.40 L385.99,164.42 L386.58,164.43 L387.16,164.44 L387.74,164.45 L388.33,164.46 L388.91,164.47 L389.50,164.48 L390.08,164.49 L390.66,164.50 L391.25,164.51 L391.83,164.52 L392.42,164.53 L393.00,164.54 L393.58,164.55 L394.17,164.55 L394.75,164.56 L395.34,164.57 L395.92,164.57 L396.50,164.58 L397.09,164.58 L397.67,164.59 L398.26,164.60 L398.84,164.60 L399.42,164.60 L400.01,164.61 L400.59,164.61 L401.18,164.62 L401.76,164.62 L402.34,164.63 L402.93,164.63 L403.51,164.63 L404.10,164.64 L404.68,164.64 L405.26,164.64 L405.85,164.65 L406.43,164.65 L407.02,164.65 L407.60,164.65 L408.18,164.66 L408.77,164.66 L409.35,164.66 L409.94,164.66 L410.52,164.66 L411.10,164.67 L411.69,164.67 L412.27,164.67 L412.86,164.67 L413.44,164.67 L414.02,164.67 L414.61,164.67 L415.19,164.68 L415.78,164.68 L416.36,164.68 L416.94,164.68 L417.53,164.68 L418.11,164.68 L418.70,164.68 L419.28,164.68 L419.86,164.68 L420.45,164.69 L421.03,164.69 L421.62,164.69 L422.20,164.69" fill="none" stroke="#b40000" stroke-width="2.05" stroke-dasharray="5.7 1.7" stroke-linejoin="round"/>
<path d="M71.80,164.70 L72.38,169.15 L72.97,173.58 L73.55,177.99 L74.14,182.38 L74.72,186.71 L75.30,191.00 L75.89,195.22 L76.47,199.36 L77.06,203.43 L77.64,207.39 L78.22,211.26 L78.81,215.01 L79.39,218.63 L79.98,222.13 L80.56,225.49 L81.14,228.69 L81.73,231.75 L82.31,234.64 L82.90,237.36 L83.48,239.90 L84.06,242.27 L84.65,244.44 L85.23,246.42 L85.82,248.20 L86.40,249.78 L86.98,251.16 L87.57,252.32 L88.15,253.27 L88.74,254.01 L89.32,254.54 L89.90,254.84 L90.49,254.93 L91.07,254.81 L91.66,254.46 L92.24,253.90 L92.82,253.12 L93.41,252.14 L93.99,250.94 L94.58,249.53 L95.16,247.92 L95.74,246.12 L96.33,244.11 L96.91,241.92 L97.50,239.55 L98.08,236.99 L98.66,234.26 L99.25,231.37 L99.83,228.32 L100.42,225.12 L101.00,221.77 L101.58,218.29 L102.17,214.68 L102.75,210.95 L103.34,207.12 L103.92,203.18 L104.50,199.15 L105.09,195.05 L105.67,190.87 L106.26,186.63 L106.84,182.33 L107.42,178.00 L108.01,173.63 L108.59,169.25 L109.18,164.85 L109.76,160.46 L110.34,156.07 L110.93,151.70 L111.51,147.37 L112.10,143.07 L112.68,138.83 L113.26,134.64 L113.85,130.52 L114.43,126.48 L115.02,122.53 L115.60,118.68 L116.18,114.93 L116.77,111.29 L117.35,107.78 L117.94,104.40 L118.52,101.15 L119.10,98.05 L119.69,95.09 L120.27,92.30 L120.86,89.67 L121.44,87.21 L122.02,84.92 L122.61,82.81 L123.19,80.88 L123.78,79.14 L124.36,77.59 L124.94,76.24 L125.53,75.08 L126.11,74.12 L126.70,73.36 L127.28,72.80 L127.86,72.44 L128.45,72.29 L129.03,72.34 L129.62,72.59 L130.20,73.04 L130.78,73.69 L131.37,74.53 L131.95,75.57 L132.54,76.81 L133.12,78.23 L133.70,79.84 L134.29,81.63 L134.87,83.60 L135.46,85.74 L136.04,88.05 L136.62,90.52 L137.21,93.14 L137.79,95.92 L138.38,98.84 L138.96,101.90 L139.54,105.09 L140.13,108.41 L140.71,111.84 L141.30,115.38 L141.88,119.02 L142.46,122.76 L143.05,126.58 L143.63,130.48 L144.22,134.46 L144.80,138.49 L145.38,142.57 L145.97,146.70 L146.55,150.87 L147.14,155.06 L147.72,159.28 L148.30,163.50 L148.89,167.73 L149.47,171.95 L150.06,176.15 L150.64,180.33 L151.22,184.49 L151.81,188.60 L152.39,192.67 L152.98,196.68 L153.56,200.64 L154.14,204.52 L154.73,208.33 L155.31,212.05 L155.90,215.68 L156.48,219.22 L157.06,222.66 L157.65,225.98 L158.23,229.20 L158.82,232.29 L159.40,235.26 L159.98,238.09 L160.57,240.80 L161.15,243.36 L161.74,245.78 L162.32,248.05 L162.90,250.18 L163.49,252.15 L164.07,253.96 L164.66,255.61 L165.24,257.11 L165.82,258.44 L166.41,259.61 L166.99,260.61 L167.58,261.44 L168.16,262.11 L168.74,262.61 L169.33,262.95 L169.91,263.11 L170.50,263.11 L171.08,262.95 L171.66,262.61 L172.25,262.12 L172.83,261.47 L173.42,260.65 L174.00,259.68 L174.58,258.55 L175.17,257.28 L175.75,255.85 L176.34,254.28 L176.92,252.56 L177.50,250.71 L178.09,248.72 L178.67,246.60 L179.26,244.35 L179.84,241.98 L180.42,239.49 L181.01,236.88 L181.59,234.17 L182.18,231.35 L182.76,228.44 L183.34,225.42 L183.93,222.32 L184.51,219.14 L185.10,215.87 L185.68,212.53 L186.26,209.13 L186.85,205.66 L187.43,202.13 L188.02,198.55 L188.60,194.92 L189.18,191.25 L189.77,187.55 L190.35,183.81 L190.94,180.05 L191.52,176.26 L192.10,172.46 L192.69,168.66 L193.27,164.84 L193.86,161.03 L194.44,157.22 L195.02,153.42 L195.61,149.63 L196.19,145.86 L196.78,142.12 L197.36,138.41 L197.94,134.72 L198.53,131.07 L199.11,127.47 L199.70,123.90 L200.28,120.39 L200.86,116.92 L201.45,113.51 L202.03,110.16 L202.62,106.87 L203.20,103.65 L203.78,100.49 L204.37,97.40 L204.95,94.38 L205.54,91.44 L206.12,88.58 L206.70,85.79 L207.29,83.09 L207.87,80.47 L208.46,77.93 L209.04,75.48 L209.62,73.12 L210.21,70.84 L210.79,68.66 L211.38,66.56 L211.96,64.56 L212.54,62.65 L213.13,60.83 L213.71,59.10 L214.30,57.47 L214.88,55.92 L215.46,54.48 L216.05,53.12 L216.63,51.86 L217.22,50.68 L217.80,49.60 L218.38,48.61 L218.97,47.71 L219.55,46.90 L220.14,46.18 L220.72,45.54 L221.30,44.99 L221.89,44.52 L222.47,44.14 L223.06,43.84 L223.64,43.62 L224.22,43.48 L224.81,43.41 L225.39,43.43 L225.98,43.51 L226.56,43.67 L227.14,43.90 L227.73,44.20 L228.31,44.56 L228.90,44.99 L229.48,45.48 L230.06,46.04 L230.65,46.65 L231.23,47.32 L231.82,48.05 L232.40,48.82 L232.98,49.65 L233.57,50.53 L234.15,51.46 L234.74,52.43 L235.32,53.44 L235.90,54.49 L236.49,55.59 L237.07,56.72 L237.66,57.88 L238.24,59.08 L238.82,60.30 L239.41,61.56 L239.99,62.85 L240.58,64.16 L241.16,65.49 L241.74,66.84 L242.33,68.22 L242.91,69.61 L243.50,71.02 L244.08,72.44 L244.66,73.87 L245.25,75.32 L245.83,76.78 L246.42,78.24 L247.00,79.71 L247.58,81.19 L248.17,82.67 L248.75,84.15 L249.34,85.64 L249.92,87.12 L250.50,88.60 L251.09,90.08 L251.67,91.56 L252.26,93.03 L252.84,94.49 L253.42,95.95 L254.01,97.40 L254.59,98.84 L255.18,100.27 L255.76,101.69 L256.34,103.10 L256.93,104.49 L257.51,105.88 L258.10,107.25 L258.68,108.60 L259.26,109.94 L259.85,111.27 L260.43,112.57 L261.02,113.87 L261.60,115.14 L262.18,116.40 L262.77,117.64 L263.35,118.86 L263.94,120.06 L264.52,121.25 L265.10,122.41 L265.69,123.56 L266.27,124.69 L266.86,125.79 L267.44,126.88 L268.02,127.95 L268.61,128.99 L269.19,130.02 L269.78,131.03 L270.36,132.02 L270.94,132.98 L271.53,133.93 L272.11,134.86 L272.70,135.76 L273.28,136.65 L273.86,137.52 L274.45,138.37 L275.03,139.19 L275.62,140.00 L276.20,140.79 L276.78,141.56 L277.37,142.31 L277.95,143.05 L278.54,143.76 L279.12,144.46 L279.70,145.14 L280.29,145.80 L280.87,146.44 L281.46,147.06 L282.04,147.67 L282.62,148.26 L283.21,148.84 L283.79,149.40 L284.38,149.94 L284.96,150.47 L285.54,150.98 L286.13,151.48 L286.71,151.96 L287.30,152.43 L287.88,152.88 L288.46,153.32 L289.05,153.75 L289.63,154.16 L290.22,154.56 L290.80,154.94 L291.38,155.32 L291.97,155.68 L292.55,156.03 L293.14,156.37 L293.72,156.70 L294.30,157.01 L294.89,157.32 L295.47,157.61 L296.06,157.90 L296.64,158.17 L297.22,158.44 L297.81,158.70 L298.39,158.94 L298.98,159.18 L299.56,159.41 L300.14,159.63 L300.73,159.84 L301.31,160.05 L301.90,160.25 L302.48,160.44 L303.06,160.62 L303.65,160.80 L304.23,160.97 L304.82,161.13 L305.40,161.28 L305.98,161.44 L306.57,161.58 L307.15,161.72 L307.74,161.85 L308.32,161.98 L308.90,162.10 L309.49,162.22 L310.07,162.33 L310.66,162.44 L311.24,162.55 L311.82,162.64 L312.41,162.74 L312.99,162.83 L313.58,162.92 L314.16,163.00 L314.74,163.08 L315.33,163.16 L315.91,163.23 L316.50,163.30 L317.08,163.37 L317.66,163.43 L318.25,163.50 L318.83,163.55 L319.42,163.61 L320.00,163.66 L320.58,163.72 L321.17,163.76 L321.75,163.81 L322.34,163.86 L322.92,163.90 L323.50,163.94 L324.09,163.98 L324.67,164.01 L325.26,164.05 L325.84,164.08 L326.42,164.11 L327.01,164.14 L327.59,164.17 L328.18,164.20 L328.76,164.23 L329.34,164.25 L329.93,164.27 L330.51,164.30 L331.10,164.32 L331.68,164.34 L332.26,164.36 L332.85,164.38 L333.43,164.39 L334.02,164.41 L334.60,164.43 L335.18,164.44 L335.77,164.46 L336.35,164.47 L336.94,164.48 L337.52,164.49 L338.10,164.50 L338.69,164.52 L339.27,164.53 L339.86,164.54 L340.44,164.54 L341.02,164.55 L341.61,164.56 L342.19,164.57 L342.78,164.58 L343.36,164.58 L343.94,164.59 L344.53,164.60 L345.11,164.60 L345.70,164.61 L346.28,164.61 L346.86,164.62 L347.45,164.62 L348.03,164.63 L348.62,164.63 L349.20,164.64 L349.78,164.64 L350.37,164.64 L350.95,164.65 L351.54,164.65 L352.12,164.65 L352.70,164.66 L353.29,164.66 L353.87,164.66 L354.46,164.66 L355.04,164.67 L355.62,164.67 L356.21,164.67 L356.79,164.67 L357.38,164.67 L357.96,164.68 L358.54,164.68 L359.13,164.68 L359.71,164.68 L360.30,164.68 L360.88,164.68 L361.46,164.68 L362.05,164.68 L362.63,164.69 L363.22,164.69 L363.80,164.69 L364.38,164.69 L364.97,164.69 L365.55,164.69 L366.14,164.69 L366.72,164.69 L367.30,164.69 L367.89,164.69 L368.47,164.69 L369.06,164.69 L369.64,164.69 L370.22,164.69 L370.81,164.69 L371.39,164.69 L371.98,164.69 L372.56,164.70 L373.14,164.70 L373.73,164.70 L374.31,164.70 L374.90,164.70 L375.48,164.70 L376.06,164.70 L376.65,164.70 L377.23,164.70 L377.82,164.70 L378.40,164.70 L378.98,164.70 L379.57,164.70 L380.15,164.70 L380.74,164.70 L381.32,164.70 L381.90,164.70 L382.49,164.70 L383.07,164.70 L383.66,164.70 L384.24,164.70 L384.82,164.70 L385.41,164.70 L385.99,164.70 L386.58,164.70 L387.16,164.70 L387.74,164.70 L388.33,164.70 L388.91,164.70 L389.50,164.70 L390.08,164.70 L390.66,164.70 L391.25,164.70 L391.83,164.70 L392.42,164.70 L393.00,164.70 L393.58,164.70 L394.17,164.70 L394.75,164.70 L395.34,164.70 L395.92,164.70 L396.50,164.70 L397.09,164.70 L397.67,164.70 L398.26,164.70 L398.84,164.70 L399.42,164.70 L400.01,164.70 L400.59,164.70 L401.18,164.70 L401.76,164.70 L402.34,164.70 L402.93,164.70 L403.51,164.70 L404.10,164.70 L404.68,164.70 L405.26,164.70 L405.85,164.70 L406.43,164.70 L407.02,164.70 L407.60,164.70 L408.18,164.70 L408.77,164.70 L409.35,164.70 L409.94,164.70 L410.52,164.70 L411.10,164.70 L411.69,164.70 L412.27,164.70 L412.86,164.70 L413.44,164.70 L414.02,164.70 L414.61,164.70 L415.19,164.70 L415.78,164.70 L416.36,164.70 L416.94,164.70 L417.53,164.70 L418.11,164.70 L418.70,164.70 L419.28,164.70 L419.86,164.70 L420.45,164.70 L421.03,164.70 L421.62,164.70 L422.20,164.70" fill="none" stroke="#0000b4" stroke-width="2.2" stroke-dasharray="3 1.6 6 1.6" stroke-linejoin="round"/>
<path d="M71.80,31.10 v3.60 M95.16,31.10 v2.40 M118.52,31.10 v2.40 M141.88,31.10 v2.40 M165.24,31.10 v2.40 M188.60,31.10 v3.60 M211.96,31.10 v2.40 M235.32,31.10 v2.40 M258.68,31.10 v2.40 M282.04,31.10 v2.40 M305.40,31.10 v3.60 M328.76,31.10 v2.40 M352.12,31.10 v2.40 M375.48,31.10 v2.40 M398.84,31.10 v2.40 M422.20,31.10 v3.60 M429.70,273.66 h-2.40 M429.70,258.13 h-3.60 M429.70,242.60 h-2.40 M429.70,227.07 h-3.60 M429.70,211.54 h-2.40 M429.70,196.01 h-3.60 M429.70,180.48 h-2.40 M429.70,164.95 h-3.60 M429.70,149.42 h-2.40 M429.70,133.89 h-3.60 M429.70,118.36 h-2.40 M429.70,102.83 h-3.60 M429.70,87.30 h-2.40 M429.70,71.77 h-3.60 M429.70,56.24 h-2.40 M429.70,40.71 h-3.60" stroke="#888" stroke-width="0.3" fill="none"/>
<path d="M71.80,275.40 v-4.40 M130.20,275.40 v-4.40 M188.60,275.40 v-4.40 M247.00,275.40 v-4.40 M305.40,275.40 v-4.40 M363.80,275.40 v-4.40 M422.20,275.40 v-4.40 M65.00,258.13 h3.10 M65.00,227.07 h3.10 M65.00,196.01 h3.10 M65.00,164.95 h3.10 M65.00,133.89 h3.10 M65.00,102.83 h3.10 M65.00,71.77 h3.10 M65.00,40.71 h3.10" stroke="#000" stroke-width="1.7" fill="none"/>
<path d="M83.48,275.40 v-2.20 M95.16,275.40 v-2.20 M106.84,275.40 v-2.20 M118.52,275.40 v-2.20 M141.88,275.40 v-2.20 M153.56,275.40 v-2.20 M165.24,275.40 v-2.20 M176.92,275.40 v-2.20 M200.28,275.40 v-2.20 M211.96,275.40 v-2.20 M223.64,275.40 v-2.20 M235.32,275.40 v-2.20 M258.68,275.40 v-2.20 M270.36,275.40 v-2.20 M282.04,275.40 v-2.20 M293.72,275.40 v-2.20 M317.08,275.40 v-2.20 M328.76,275.40 v-2.20 M340.44,275.40 v-2.20 M352.12,275.40 v-2.20 M375.48,275.40 v-2.20 M387.16,275.40 v-2.20 M398.84,275.40 v-2.20 M410.52,275.40 v-2.20 M65.00,270.55 h1.90 M65.00,264.34 h1.90 M65.00,251.92 h1.90 M65.00,245.71 h1.90 M65.00,239.49 h1.90 M65.00,233.28 h1.90 M65.00,220.86 h1.90 M65.00,214.65 h1.90 M65.00,208.43 h1.90 M65.00,202.22 h1.90 M65.00,189.80 h1.90 M65.00,183.59 h1.90 M65.00,177.37 h1.90 M65.00,171.16 h1.90 M65.00,158.74 h1.90 M65.00,152.53 h1.90 M65.00,146.31 h1.90 M65.00,140.10 h1.90 M65.00,127.68 h1.90 M65.00,121.47 h1.90 M65.00,115.25 h1.90 M65.00,109.04 h1.90 M65.00,96.62 h1.90 M65.00,90.41 h1.90 M65.00,84.19 h1.90 M65.00,77.98 h1.90 M65.00,65.56 h1.90 M65.00,59.35 h1.90 M65.00,53.13 h1.90 M65.00,46.92 h1.90 M65.00,34.50 h1.90" stroke="#000" stroke-width="1.4" fill="none"/>
<path d="M65.00,31.10 H429.70" stroke="#000" stroke-width="1.9" fill="none" stroke-linecap="square"/>
<path d="M65.00,275.40 H429.70" stroke="#000" stroke-width="2.4" fill="none" stroke-linecap="square"/>
<path d="M65.00,31.10 V275.40 M429.70,31.10 V275.40" stroke="#000" stroke-width="2.2" fill="none" stroke-linecap="square"/>
<path d="M307.9,189.0 H343.6" fill="none" stroke="#000000" stroke-width="1.95"/>
<path d="M307.9,215.7 H342.8" fill="none" stroke="#b40000" stroke-width="1.9" stroke-dasharray="5.7 1.7"/>
<path d="M307.9,242.1 H342.3" fill="none" stroke="#0000b4" stroke-width="2.05" stroke-dasharray="3 1.6 6 1.6"/>
</svg>
<div class="t yl" style="transform:translate(21.00px,250.77px) rotate(0.2deg) scaleY(1.13);"><span class="mn">−</span>0.3</div>
<div class="t yl" style="transform:translate(21.00px,219.58px) rotate(0.2deg) scaleY(1.13);"><span class="mn">−</span>0.2</div>
<div class="t yl" style="transform:translate(21.00px,188.39px) rotate(0.2deg) scaleY(1.13);"><span class="mn">−</span>0.1</div>
<div class="t yl" style="transform:translate(21.00px,157.20px) rotate(0.2deg) scaleY(1.13);">0.0</div>
<div class="t yl" style="transform:translate(21.00px,126.01px) rotate(0.2deg) scaleY(1.13);">0.1</div>
<div class="t yl" style="transform:translate(21.00px,94.82px) rotate(0.2deg) scaleY(1.13);">0.2</div>
<div class="t yl" style="transform:translate(21.00px,63.63px) rotate(0.2deg) scaleY(1.13);">0.3</div>
<div class="t yl" style="transform:translate(21.00px,32.44px) rotate(0.2deg) scaleY(1.13);">0.4</div>
<div class="t xl" style="transform:translate(51.80px,281.20px) rotate(0.2deg) scaleY(1.13);">0</div>
<div class="t xl" style="transform:translate(110.20px,281.20px) rotate(0.2deg) scaleY(1.13);">5</div>
<div class="t xl" style="transform:translate(168.60px,281.20px) rotate(0.2deg) scaleY(1.13);">10</div>
<div class="t xl" style="transform:translate(227.00px,281.20px) rotate(0.2deg) scaleY(1.13);">15</div>
<div class="t xl" style="transform:translate(285.40px,281.20px) rotate(0.2deg) scaleY(1.13);">20</div>
<div class="t xl" style="transform:translate(343.80px,281.20px) rotate(0.2deg) scaleY(1.13);">25</div>
<div class="t xl" style="transform:translate(402.20px,281.20px) rotate(0.2deg) scaleY(1.13);">30</div>
<div class="t" style="transform:translate(100.20px,53.00px) rotate(0.2deg) scaleY(1.16);font-size:13.9px;">n=7</div>
<div class="t" style="transform:translate(242.80px,308.30px) rotate(0.2deg) scaleY(1.12);font-size:15.4px;">x</div>
<div class="t" style="font-size:15.8px;transform:translate(14.4px,153.3px) translate(-50%,-50%) rotate(-89.8deg) scale(1.09,1.0);"><i>ϕ</i><span style="font-size:12px;position:relative;top:3.2px;margin-left:0.4px;margin-right:0.4px">1</span>(x)</div>
<div class="t" style="transform:translate(353.00px,180.90px) rotate(0.2deg) scaleY(1.1);font-size:14.1px;"><i>μ</i>=0.025</div>
<div class="t" style="transform:translate(353.00px,207.20px) rotate(0.2deg) scaleY(1.1);font-size:14.1px;"><i>μ</i>=0.045</div>
<div class="t" style="transform:translate(353.00px,234.60px) rotate(0.2deg) scaleY(1.1);font-size:14.1px;"><i>μ</i>=0.065</div>
</div></body></html>
